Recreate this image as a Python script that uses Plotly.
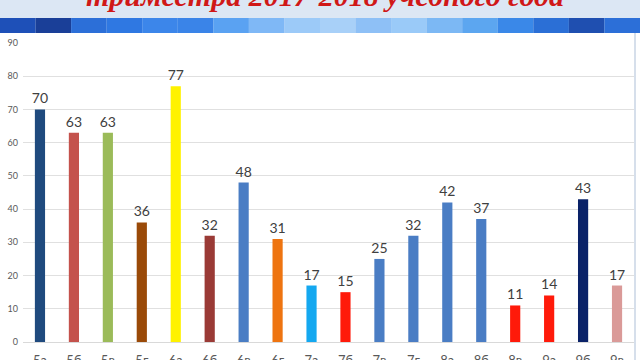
import plotly.graph_objects as go

categories = ["5а", "5б", "5в", "5г", "6а", "6б", "6в", "6г", "7а", "7б",
              "7в", "7г", "8а", "8б", "8в", "9а", "9б", "9в"]
values = [70, 63, 63, 36, 77, 32, 48, 31, 17, 15, 25, 32, 42, 37, 11, 14, 43, 17]
bar_colors = ["#1F4A7E", "#C4524C", "#9BBB59", "#9A4A08", "#FFF200", "#9A3A36",
              "#4A7DC4", "#EE7410", "#14A8F0", "#FF1A0A", "#4A7DC4", "#4A7DC4",
              "#4A7DC4", "#4A7DC4", "#FF1A0A", "#FF1A0A", "#0A2268", "#DA9A98"]
y_ticks = [0, 10, 20, 30, 40, 50, 60, 70, 80, 90]
title_text = "триместра 2017-2018 учебного года"

W, H = 640, 360
PW, PH = 611, 299

fig = go.Figure(go.Bar(
    x=categories, y=values,
    marker=dict(color=bar_colors, line=dict(width=0)),
    text=[str(v) for v in values], textposition="outside",
    textfont=dict(family="Lato", size=14, color="#404040"),
    constraintext="none",
    cliponaxis=False,
))

shapes = []
shapes.append(dict(type="rect", xref="paper", yref="paper", layer="below",
                   x0=-23/PW, x1=1+6/PW, y0=1+10/PH, y1=1+50/PH,
                   fillcolor="#DCE7F4", line=dict(width=0)))
stripe = ["#1E50B8", "#1A3F98", "#2C6FD8", "#2F78E2", "#3C86EA", "#3A84E8",
          "#5AA2F2", "#7FB8F6", "#9CCAF8", "#A8D0F8", "#8EC0F6", "#9ACAF8",
          "#7CB8F4", "#5CA6F0", "#3A88E8", "#2B6FD6", "#1F4FB0", "#2C6FD8"]
n = len(stripe)
for i, c in enumerate(stripe):
    px0 = i * W / n
    px1 = (i + 1) * W / n
    shapes.append(dict(type="rect", xref="paper", yref="paper", layer="below",
                       x0=(px0 - 23) / PW, x1=(px1 - 23) / PW,
                       y0=1 + 10/PH, y1=1 + 25/PH,
                       fillcolor=c, line=dict(width=0)))
shapes.append(dict(type="line", xref="paper", yref="paper",
                   x0=1 + 1/PW, x1=1 + 1/PW, y0=-18/PH, y1=1 + 10/PH,
                   line=dict(color="#C8D4E4", width=1.5)))

fig.update_layout(
    width=W, height=H,
    margin=dict(l=23, r=6, t=43, b=18, autoexpand=False),
    paper_bgcolor="white", plot_bgcolor="white",
    bargap=0.7, showlegend=False,
    shapes=shapes,
    font=dict(family="Lato", color="#595959"),
    annotations=[dict(text=title_text, xref="paper", yref="paper",
                      x=(325 - 23) / PW, xanchor="center",
                      y=1 + (43 - 14) / PH, yanchor="bottom", showarrow=False,
                      font=dict(family="Liberation Serif", size=30,
                                color="#D01818", weight="bold",
                                style="italic"))],
    xaxis=dict(showgrid=False, showline=False, ticks="", automargin=False,
               tickfont=dict(size=13, color="#595959"), ticklabelstandoff=9),
    yaxis=dict(range=[0, 90], tickvals=y_ticks, showgrid=True, automargin=False,
               gridcolor="#E0E0E0", gridwidth=1, zeroline=True,
               zerolinecolor="#D9D9D9", zerolinewidth=1,
               tickfont=dict(size=9, color="#595959"), ticks="",
               ticklabelstandoff=4),
)

fig.write_html("out.html")
